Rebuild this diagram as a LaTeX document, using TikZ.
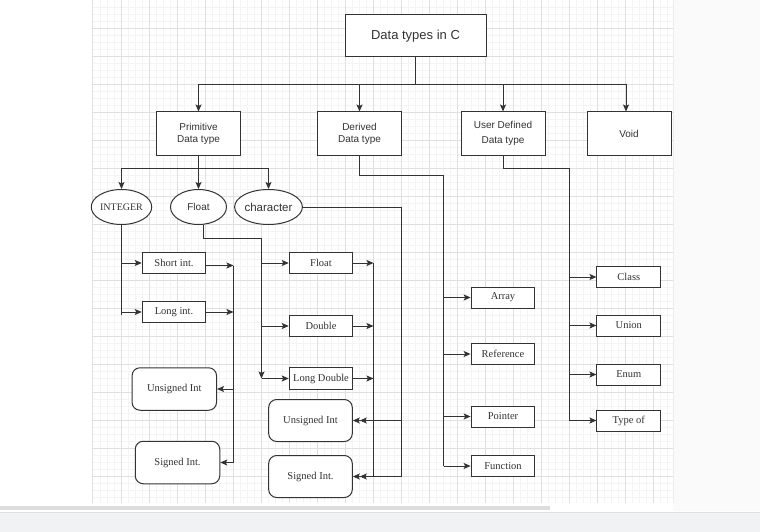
\documentclass[tikz,border=0pt]{standalone}
\usepackage{fontspec}
\setmainfont{Liberation Serif}
\setsansfont{Liberation Sans}
\usetikzlibrary{arrows.meta,shapes.geometric}
\definecolor{ln}{HTML}{333333}
\definecolor{gminor}{HTML}{F4F4F4}
\definecolor{gmajor}{HTML}{E0E0E0}
\definecolor{outside}{HTML}{FAFAFA}
\definecolor{barbg}{HTML}{F1F2F4}
\definecolor{thumb}{HTML}{DDDDDD}
\begin{document}
\begin{tikzpicture}[x=1pt,y=-1pt,
  line width=1pt,
  every node/.style={text=ln},
  box/.style={draw=ln,fill=white,line width=1pt,inner sep=0pt,align=center},
  sbox/.style={box,font=\sffamily\fontsize{10}{12}\selectfont},
  tbox/.style={box,font=\rmfamily\fontsize{10.5}{12}\selectfont},
  rbox/.style={tbox,rounded corners=8pt},
  ell/.style={draw=ln,fill=white,ellipse,line width=1pt,inner sep=0pt,minimum width=56pt,minimum height=35pt},
  wire/.style={draw=ln,line width=1pt},
  arr/.style={wire,-{Stealth[length=7pt,width=6pt,inset=1.5pt]}},
  minorg/.style={draw=gminor,line width=0.6pt},
  majorg/.style={draw=gmajor,line width=0.8pt}]
\useasboundingbox (0,0) rectangle (760,532);
\fill[white] (0,0) rectangle (760,532);
\fill[outside] (673,0) rectangle (760,511);
% grid
\foreach \x in {100,107,...,672} \draw[minorg] (\x,0) -- (\x,503);
\foreach \y in {7,14,...,502} \draw[minorg] (93,\y) -- (673,\y);
\foreach \x in {121,149,...,672} \draw[majorg] (\x,0) -- (\x,503);
\foreach \y in {28,56,...,502} \draw[majorg] (93,\y) -- (673,\y);
\draw[draw=gmajor,line width=1pt] (92.5,0) -- (92.5,503);
\draw[draw=gmajor!60,line width=1pt] (673.5,0) -- (673.5,503);
% bottom bar
\fill[thumb] (0,506) rectangle (550,510);
\fill[barbg] (0,512) rectangle (760,532);
\draw[draw=gmajor,line width=0.8pt] (0,512) -- (760,512);

% top
\node[sbox,font=\sffamily\fontsize{13}{15}\selectfont,minimum width=141pt,minimum height=42pt] (title) at (415.5,36) {Data types in C};
\node[sbox,minimum width=83.5pt,minimum height=43pt] (prim) at (198.5,133.5) {Primitive\\Data type};
\node[sbox,minimum width=84pt,minimum height=43pt] (der) at (359.5,133.5) {Derived\\Data type};
\node[sbox,font=\sffamily\fontsize{10}{15}\selectfont,minimum width=84pt,minimum height=43pt] (usr) at (503,133.5) {User Defined\\Data type};
\node[sbox,minimum width=84pt,minimum height=43pt] (void) at (629,133.5) {Void};

\draw[arr] (title.south) -- ++(0,27.5) -| (prim.north);
\draw[arr] (title.south) -- ++(0,27.5) -| (der.north);
\draw[arr] (title.south) -- ++(0,27.5) -| (usr.north);
\draw[arr] (title.south) -- ++(0,27.5) -| ([xshift=-3pt]void.north);

% ellipses
\node[ell,font=\rmfamily\fontsize{10}{12}\selectfont] (int) at (121.5,207) {INTEGER};
\node[ell,font=\sffamily\fontsize{10}{12}\selectfont] (flt) at (198.5,207) {Float};
\node[ell,font=\sffamily\fontsize{11.5}{13}\selectfont] (chr) at (268.5,207) {character};
\draw[arr] (prim.south) -- ++(0,13) -| (int.north);
\draw[arr] (prim.south) -- (flt.north);
\draw[arr] (prim.south) -- ++(0,13) -| (chr.north);

% integer branch
\node[tbox,minimum width=63.5pt,minimum height=21.5pt] (short) at (174,263) {Short int.};
\node[tbox,minimum width=63.5pt,minimum height=21pt] (long) at (174,312) {Long int.};
\node[rbox,minimum width=84.5pt,minimum height=42.5pt] (uns1) at (174.3,389) {Unsigned Int};
\node[rbox,minimum width=84.5pt,minimum height=42.5pt] (sig1) at (177.5,462.5) {Signed Int.};
\coordinate (vI) at (121.5,315);
\draw[wire] (int.south) -- (vI);
\draw[arr] (int.south |- short.west) -- (short.west);
\draw[arr] (int.south |- long.west) -- (long.west);
\coordinate (vR) at (233.5,265.5);
\draw[arr] (short.east |- vR) -- (vR);
\draw[arr] (long.east) -- (long.east -| vR);
\draw[wire] (vR) -- (vR |- sig1.east);
\draw[arr] (vR |- uns1.east) -- (uns1.east);
\draw[arr] (vR |- sig1.east) -- (sig1.east);

% float branch
\node[tbox,minimum width=63.5pt,minimum height=21.5pt] (fbox) at (321,263) {Float};
\node[tbox,minimum width=63.5pt,minimum height=21pt] (dbl) at (321,326) {Double};
\node[tbox,minimum width=63.5pt,minimum height=21.3pt] (ldbl) at (321,378.5) {Long Double};
\node[rbox,minimum width=83.6pt,minimum height=42pt] (uns2) at (310.5,420.5) {Unsigned Int};
\node[rbox,minimum width=83.6pt,minimum height=42pt] (sig2) at (310.5,476.5) {Signed Int.};
\coordinate (vF) at (261.5,238.5);
\draw[wire] ([xshift=4.6pt]flt.south) |- (vF);
\draw[arr] (vF) -- (vF |- ldbl.west);
\draw[arr] (vF |- ldbl.west) -- (ldbl.west);
\draw[arr] (vF |- fbox.west) -- (fbox.west);
\draw[arr] (vF |- dbl.west) -- (dbl.west);
\coordinate (vC) at (373.5,263);
\draw[arr] (fbox.east) -- (fbox.east -| vC);
\draw[arr] (dbl.east) -- (dbl.east -| vC);
\draw[arr] (ldbl.east) -- (ldbl.east -| vC);
\draw[wire] (vC) -- (vC |- sig2.east);
\draw[arr] (vC |- uns2.east) -- ([xshift=7pt]uns2.east);
\draw[arr] (vC |- sig2.east) -- ([xshift=7pt]sig2.east);
% character branch
\coordinate (vH) at (401.5,207);
\draw[wire] (chr.east) -- (vH) -- (vH |- sig2.east);
\draw[arr] (vH |- uns2.east) -- (uns2.east);
\draw[arr] (vH |- sig2.east) -- (sig2.east);

% derived branch
\node[tbox,minimum width=63.7pt,minimum height=21pt] (array) at (503,297.5) {Array};
\node[tbox,minimum width=63.7pt,minimum height=21.4pt] (ref) at (503,354) {Reference};
\node[tbox,minimum width=63.7pt,minimum height=21pt] (ptr) at (503,416.5) {Pointer};
\node[tbox,minimum width=63.7pt,minimum height=21pt] (fun) at (503,466) {Function};
\coordinate (vD) at (443.5,175.5);
\draw[wire] (der.south) |- (vD) -- (vD |- fun.west);
\draw[arr] (vD |- array.west) -- (array.west);
\draw[arr] (vD |- ref.west) -- (ref.west);
\draw[arr] (vD |- ptr.west) -- (ptr.west);
\draw[arr] (vD |- fun.west) -- (fun.west);

% user defined branch
\node[tbox,minimum width=63.7pt,minimum height=21.4pt] (cls) at (628.8,277) {Class};
\node[tbox,minimum width=63.7pt,minimum height=21pt] (uni) at (628.8,325.5) {Union};
\node[tbox,minimum width=63.7pt,minimum height=21pt] (enm) at (628.8,374.5) {Enum};
\node[tbox,minimum width=63.7pt,minimum height=21pt] (tyo) at (628.8,420.5) {Type of};
\coordinate (vU) at (569.5,168.5);
\draw[wire] (usr.south) |- (vU) -- (vU |- tyo.west);
\draw[arr] (vU |- cls.west) -- (cls.west);
\draw[arr] (vU |- uni.west) -- (uni.west);
\draw[arr] (vU |- enm.west) -- (enm.west);
\draw[arr] (vU |- tyo.west) -- (tyo.west);
\end{tikzpicture}
\end{document}
